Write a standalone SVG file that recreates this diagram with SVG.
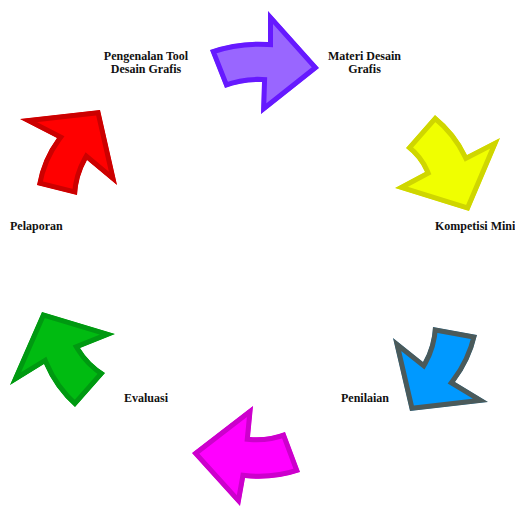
<svg xmlns="http://www.w3.org/2000/svg" xmlns:xlink="http://www.w3.org/1999/xlink" width="515" height="507" viewBox="0 0 515 507">
<style>
.arrow{stroke-width:10;stroke-linejoin:miter;stroke-miterlimit:10}
.lbl{font-family:"Liberation Serif","Times New Roman",serif;font-weight:bold;font-size:12px;fill:#111}
.mid{text-anchor:middle}
</style>
<defs>
<path id="p1" d="M210,50 Q238.5,40 268,42 L268,11 L319,68 L261,114 L262,82 Q243,81 225,88 Z"/>
<path id="p2" d="M435,115 L406,148 Q419,158 425,172 L395,188 L469,211 L500,138 L467,155 Q456,132 435,115 Z"/>
<path id="p3" d="M433,327 L477,335 Q471,361 455,382 L488,402 L410,411 L393,338 L423,362 Q432,346 433,327 Z"/>
<path id="p4" d="M253,406 L250,437 Q268,438.5 285,432 L300,472 Q273,481 245,478 L240,506 L192,453 Z"/>
<path id="p5" d="M42,312 L115,334 L80,348 Q89,363 105,373 L75,407 Q54.5,389 44,364 L10,385 Z"/>
<path id="p6" d="M20,119 L100,110 L117,185 L87,160 Q78,176 77,195 L37,185 Q41.5,159 57,138 Z"/>
<clipPath id="c1"><use xlink:href="#p1"/></clipPath>
<clipPath id="c2"><use xlink:href="#p2"/></clipPath>
<clipPath id="c3"><use xlink:href="#p3"/></clipPath>
<clipPath id="c4"><use xlink:href="#p4"/></clipPath>
<clipPath id="c5"><use xlink:href="#p5"/></clipPath>
<clipPath id="c6"><use xlink:href="#p6"/></clipPath>
</defs>
<rect width="515" height="507" fill="#fff"/>
<g id="connectors"></g>
<g id="node-materi">
<use xlink:href="#p1" class="arrow" fill="#9966ff" stroke="#6619ff" clip-path="url(#c1)"/>
<text class="lbl mid" x="364.5" y="60">Materi Desain</text>
<text class="lbl mid" x="364.5" y="73">Grafis</text>
</g>
<g id="node-kompetisi">
<use xlink:href="#p2" class="arrow" fill="#f0ff00" stroke="#cfd600" clip-path="url(#c2)"/>
<text class="lbl" x="435" y="230">Kompetisi Mini</text>
</g>
<g id="node-penilaian">
<use xlink:href="#p3" class="arrow" fill="#0099ff" stroke="#4b5a5a" clip-path="url(#c3)"/>
<text class="lbl" x="341" y="401.5">Penilaian</text>
</g>
<g id="node-evaluasi">
<use xlink:href="#p4" class="arrow" fill="#ff00ff" stroke="#cc00cc" clip-path="url(#c4)"/>
<text class="lbl" x="124" y="401.5">Evaluasi</text>
</g>
<g id="node-pelaporan">
<use xlink:href="#p5" class="arrow" fill="#00bb11" stroke="#009911" clip-path="url(#c5)"/>
<text class="lbl" x="10" y="230">Pelaporan</text>
</g>
<g id="node-pengenalan">
<use xlink:href="#p6" class="arrow" fill="#ff0000" stroke="#cc0000" clip-path="url(#c6)"/>
<text class="lbl mid" x="146" y="60">Pengenalan Tool</text>
<text class="lbl mid" x="146" y="73">Desain Grafis</text>
</g>
</svg>
